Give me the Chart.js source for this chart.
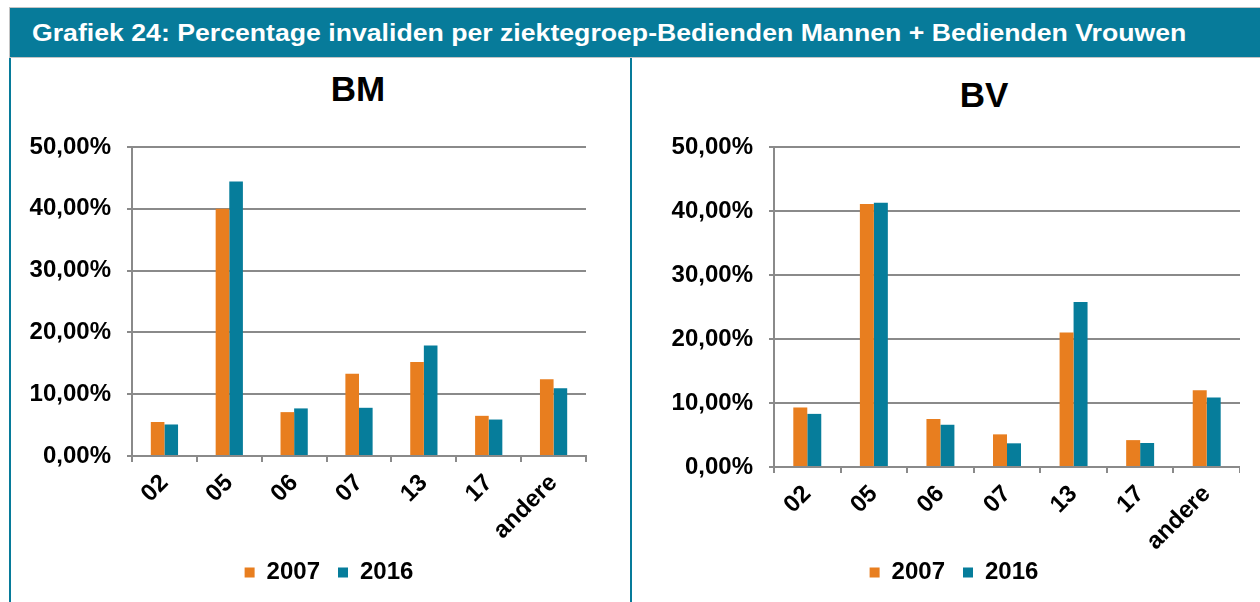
<!DOCTYPE html>
<html>
<head>
<meta charset="utf-8">
<script src="https://cdn.jsdelivr.net/npm/chart.js@4.4.1/dist/chart.umd.min.js"></script>
<style>
  html, body { margin:0; padding:0; background:#fff; width:1260px; height:602px; overflow:hidden; font-family:"Liberation Sans", Arial, sans-serif; }
  #banner { position:absolute; left:9px; top:7px; width:1251px; height:51px; background:#077b9a; border-top:1px solid #c4c4c4; border-left:1px solid #c4c4c4; border-bottom:1px solid #c4c4c4; box-sizing:border-box; }
  #banner span { position:absolute; left:22px; top:50%; transform-origin:left center; transform:translateY(-50%) scaleX(1.134); color:#fff; font-weight:bold; font-size:23.5px; white-space:nowrap; }
  .vline { position:absolute; top:58px; width:2px; height:544px; background:#077b9a; }
  .ptitle { position:absolute; font-weight:bold; font-size:35px; color:#000; transform:translate(-50%,-50%); white-space:nowrap; }
  canvas { position:absolute; }
</style>
</head>
<body>
<div id="banner"><span>Grafiek 24: Percentage invaliden per ziektegroep-Bedienden Mannen + Bedienden Vrouwen</span></div>
<div class="vline" style="left:9px"></div>
<div class="vline" style="left:630px"></div>
<div class="ptitle" style="left:358px; top:89px">BM</div>
<div class="ptitle" style="left:984px; top:95px">BV</div>
<div id="w1" style="position:absolute; left:12px; top:60px; width:634px; height:542px;"><canvas id="c1"></canvas></div>
<div id="w2" style="position:absolute; left:668px; top:60px; width:572px; height:542px;"><canvas id="c2"></canvas></div>
<script>
const categories = ["02", "05", "06", "07", "13", "17", "andere"];
const seriesNames = ["2007", "2016"];
const bm2007 = [5.5, 40.0, 7.1, 13.3, 15.2, 6.5, 12.4];
const bm2016 = [5.1, 44.4, 7.7, 7.8, 17.9, 5.9, 10.95];
const bv2007 = [9.3, 41.1, 7.5, 5.1, 21.0, 4.2, 12.0];
const bv2016 = [8.3, 41.3, 6.6, 3.7, 25.8, 3.75, 10.85];
const yTicks = [0, 10, 20, 30, 40, 50];

const ORANGE = "#e87e1f";
const TEAL = "#067d9b";
const GRID = "#8a8a8a";
const FONT = "'Liberation Sans', Arial, sans-serif";

// Moves the legend box after layout (horizontal offset, fixed top)
const legendPlace = {
  id: "legendPlace",
  afterLayout(chart, args, opts) {
    const l = chart.legend;
    if (!l) return;
    const h = l.bottom - l.top;
    l.left += opts.dx; l.right += opts.dx;
    l.top = opts.top; l.bottom = opts.top + h;
  }
};

function makeChart(id, d1, d2, yWidth, padRight, bottomTarget, legendDx) {
  const CH = 542;
  new Chart(document.getElementById(id), {
    type: "bar",
    data: {
      labels: categories,
      datasets: [
        { label: seriesNames[0], data: d1, backgroundColor: ORANGE, borderWidth: 0 },
        { label: seriesNames[1], data: d2, backgroundColor: TEAL, borderWidth: 0 }
      ]
    },
    plugins: [legendPlace],
    options: {
      responsive: true,
      maintainAspectRatio: false,
      animation: false,
      events: [],
      layout: { padding: { top: 87, right: padRight, bottom: 0, left: 0 } },
      datasets: { bar: { categoryPercentage: 0.42, barPercentage: 1.0 } },
      plugins: {
        title: { display: false },
        tooltip: { enabled: false },
        legendPlace: { dx: legendDx, top: 482.5 },
        legend: {
          display: true,
          position: "bottom",
          labels: {
            boxWidth: 10, boxHeight: 10, padding: 18,
            color: "#000",
            font: { family: FONT, size: 24, weight: "bold" }
          }
        }
      },
      scales: {
        x: {
          grid: { display: true, drawOnChartArea: false, drawTicks: true, tickLength: 6, color: GRID, lineWidth: 2 },
          border: { display: true, color: GRID, width: 2 },
          ticks: {
            color: "#000", autoSkip: false, minRotation: 45, maxRotation: 45, padding: 7,
            font: { family: FONT, size: 24, weight: "bold" }
          },
          afterFit: (s) => {
            const lh = s.chart.legend ? s.chart.legend.height : 52;
            s.height = CH - lh - bottomTarget;
          }
        },
        y: {
          min: 0, max: 50,
          afterBuildTicks: (s) => { s.ticks = yTicks.map(v => ({ value: v })); },
          grid: { color: GRID, lineWidth: 2, drawTicks: true, tickLength: 5 },
          border: { display: true, color: GRID, width: 2 },
          ticks: {
            color: "#000", padding: 16,
            font: { family: FONT, size: 24, weight: "bold" },
            callback: (v) => v.toFixed(2).replace(".", ",") + "%"
          },
          afterFit: (s) => { s.width = yWidth; }
        }
      }
    }
  });
}

makeChart("c1", bm2007, bm2016, 120, 60, 396, 30);
makeChart("c2", bv2007, bv2016, 106, 0, 407, 0);
</script>
</body>
</html>
